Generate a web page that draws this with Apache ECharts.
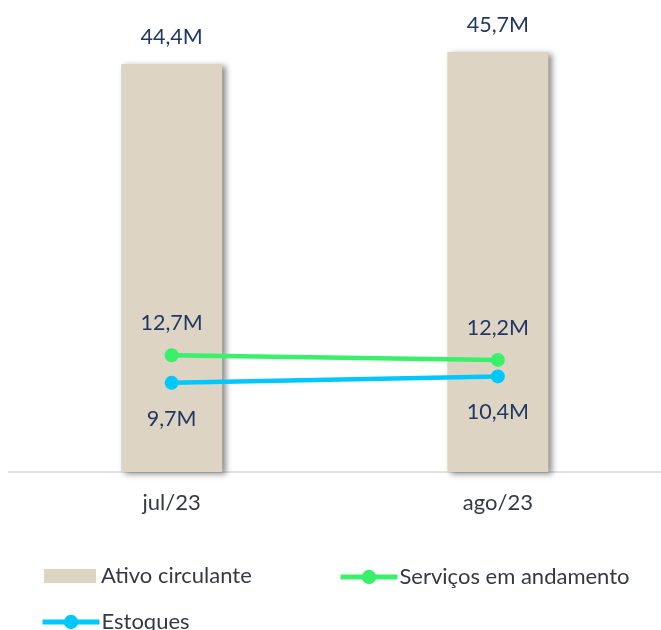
<!DOCTYPE html>
<html>
<head>
<meta charset="utf-8">
<script src="https://cdn.jsdelivr.net/npm/echarts@6/dist/echarts.min.js"></script>
<style>
  html, body { margin: 0; padding: 0; background: #ffffff; }
  #chart { width: 661px; height: 630px; }
</style>
</head>
<body>
<div id="chart"></div>
<script>
const categories = ['jul/23', 'ago/23'];
const ativoCirculante = [44.4, 45.7];
const servicosAndamento = [12.7, 12.2];
const estoques = [9.7, 10.4];
const seriesNames = ['Ativo circulante', 'Serviços em andamento', 'Estoques'];

const FONT = 'Lato';
const fmt = p => p.value.toFixed(1).replace('.', ',') + 'M';
const legendText = { color: '#333a44', fontFamily: FONT, fontSize: 22 };

const chart = echarts.init(document.getElementById('chart'), null, { renderer: 'canvas' });
chart.setOption({
  backgroundColor: '#ffffff',
  animation: false,
  grid: { left: 8.5, right: -3.5, top: 12.5, bottom: 158, containLabel: false },
  xAxis: {
    type: 'category',
    data: categories,
    axisLine: { show: true, lineStyle: { color: '#d9d9d9', width: 1.5 } },
    axisTick: { show: false },
    axisLabel: { color: '#333a44', fontFamily: FONT, fontSize: 22, margin: 20 }
  },
  yAxis: {
    type: 'value', min: 0, max: 50,
    show: false,
    splitLine: { show: false }
  },
  legend: [
    {
      data: [seriesNames[0]], left: 39, top: 560,
      itemWidth: 52, itemHeight: 14,
      icon: 'rect',
      textStyle: Object.assign({}, legendText, { padding: [0, 0, 0, 0] })
    },
    {
      data: [seriesNames[1]], left: 333, top: 561,
      itemWidth: 57, itemHeight: 18,
      lineStyle: { width: 5 },
      textStyle: Object.assign({}, legendText, { padding: [0, 0, 0, -3] })
    },
    {
      data: [seriesNames[2]], left: 35, top: 606,
      itemWidth: 57, itemHeight: 18,
      lineStyle: { width: 5 },
      textStyle: Object.assign({}, legendText, { padding: [0, 0, 0, -3] })
    }
  ],
  series: [
    {
      name: seriesNames[0],
      type: 'bar',
      data: ativoCirculante,
      barWidth: 101,
      itemStyle: {
        color: '#ddd4c4',
        shadowColor: 'rgba(0,0,0,0.45)',
        shadowBlur: 6,
        shadowOffsetX: 4,
        shadowOffsetY: 2
      },
      label: {
        show: true, position: 'top', distance: 15.5,
        color: '#203864', fontFamily: FONT, fontSize: 21.5,
        formatter: fmt
      }
    },
    {
      name: seriesNames[1],
      type: 'line',
      data: servicosAndamento,
      symbol: 'circle', symbolSize: 14,
      lineStyle: { color: '#38f06a', width: 4.5 },
      itemStyle: { color: '#38f06a' },
      label: {
        show: true, position: 'top', distance: 14,
        color: '#203864', fontFamily: FONT, fontSize: 21.5,
        formatter: fmt
      },
      z: 3
    },
    {
      name: seriesNames[2],
      type: 'line',
      data: estoques,
      symbol: 'circle', symbolSize: 14,
      lineStyle: { color: '#00c8ff', width: 4.5 },
      itemStyle: { color: '#00c8ff' },
      label: {
        show: true, position: 'bottom', distance: 18,
        color: '#203864', fontFamily: FONT, fontSize: 21.5,
        formatter: fmt
      },
      z: 3
    }
  ]
});
</script>
</body>
</html>
